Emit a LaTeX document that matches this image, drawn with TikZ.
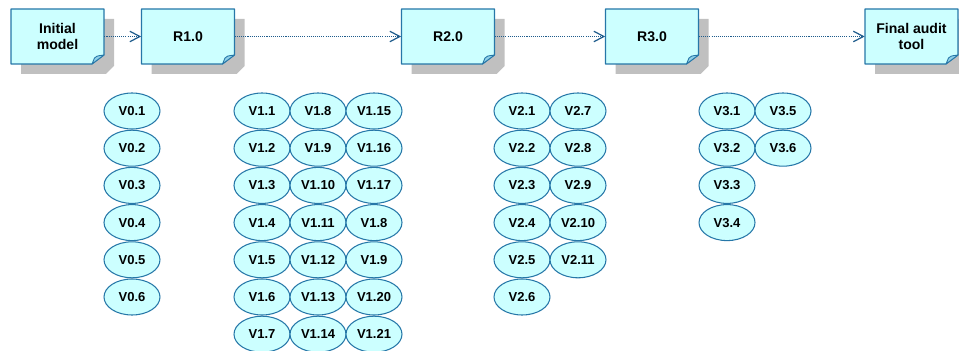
\documentclass[tikz,border=0pt]{standalone}
\usepackage{fontspec}
\setmainfont{Liberation Sans}
\usepackage{tikz}
\usetikzlibrary{shapes.geometric, arrows.meta, positioning}

\definecolor{celeste}{HTML}{CCFFFF}
\definecolor{borde}{HTML}{2677A8}
\definecolor{flecha}{HTML}{1F5C8C}
\definecolor{gris}{HTML}{C0C0C0}
\definecolor{doblez}{HTML}{8FD0E8}

\tikzset{
  sombra/.style={fill=gris},
  nota/.style={fill=celeste, draw=borde, line width=0.6pt, line join=round},
  pliegue/.style={fill=doblez, draw=borde, line width=0.5pt, line join=round},
  caja/.style={minimum width=1.86cm, minimum height=1.1cm, inner sep=0pt, align=center,
    font=\fontsize{8}{9}\selectfont\bfseries},
  version/.style={ellipse, fill=celeste, draw=borde, line width=0.6pt, inner sep=0pt,
    minimum width=1.12cm, minimum height=0.72cm, font=\fontsize{7.4}{9}\selectfont\bfseries},
  paso/.style={draw=flecha, line width=0.6pt, dash pattern=on 0.6pt off 0.6pt,
    -{Straight Barb[length=5.7pt, width=6pt, line width=0.7pt]}}
}

% caja de entrega con sombra y esquina doblada
% #1 nombre, #2 centro x, #3 texto
\newcommand{\entrega}[3]{%
  \fill[sombra] (#2-36.5,19) -- (#2+56.5,19) -- (#2+56.5,66) -- (#2+48.5,74) -- (#2-36.5,74) -- cycle;
  \filldraw[nota] (#2-46.5,9) -- (#2+46.5,9) -- (#2+46.5,55) -- (#2+34.5,64) -- (#2-46.5,64) -- cycle;
  \filldraw[pliegue] (#2+34.5,64) -- (#2+37,58) .. controls (#2+39,56) .. (#2+46.5,55) -- cycle;
  \node[caja] (#1) at (#2,36.5) {#3};
}

\begin{document}
\begin{tikzpicture}[x=0.02cm, y=-0.02cm]
  \path[use as bounding box, clip] (0,0) rectangle (959,351);

  % Cajas de las entregas
  \entrega{inicial}{57.5}{Initial\\model}
  \entrega{r1}{188}{R1.0}
  \entrega{r2}{448}{R2.0}
  \entrega{r3}{652}{R3.0}
  \entrega{final}{911.5}{Final audit\\tool}

  % Flechas entre entregas
  \draw[paso] (inicial.east) -- (r1.west);
  \draw[paso] (r1.east) -- (r2.west);
  \draw[paso] (r2.east) -- (r3.west);
  \draw[paso] (r3.east) -- (final.west);

  % Versiones V0
  \foreach \i in {1,...,6}
    \node[version] (v0-\i) at (132, 111+37.2*\i-37.2) {\makebox[0pt]{V0.\i}};

  % Versiones V1 (tres columnas)
  \foreach \i in {1,...,7}
    \node[version] (v1a-\i) at (262, 111+37.2*\i-37.2) {\makebox[0pt]{V1.\i}};
  \foreach \t [count=\i] in {8,9,10,11,12,13,14}
    \node[version] (v1b-\i) at (318, 111+37.2*\i-37.2) {\makebox[0pt]{V1.\t}};
  \foreach \t [count=\i] in {15,16,17,8,9,20,21}
    \node[version] (v1c-\i) at (374, 111+37.2*\i-37.2) {\makebox[0pt]{V1.\t}};

  % Versiones V2
  \foreach \i in {1,...,6}
    \node[version] (v2a-\i) at (522, 111+37.2*\i-37.2) {\makebox[0pt]{V2.\i}};
  \foreach \t [count=\i] in {7,8,9,10,11}
    \node[version] (v2b-\i) at (578, 111+37.2*\i-37.2) {\makebox[0pt]{V2.\t}};

  % Versiones V3
  \foreach \i in {1,...,4}
    \node[version] (v3a-\i) at (727, 111+37.2*\i-37.2) {\makebox[0pt]{V3.\i}};
  \foreach \t [count=\i] in {5,6}
    \node[version] (v3b-\i) at (783, 111+37.2*\i-37.2) {\makebox[0pt]{V3.\t}};
\end{tikzpicture}
\end{document}
